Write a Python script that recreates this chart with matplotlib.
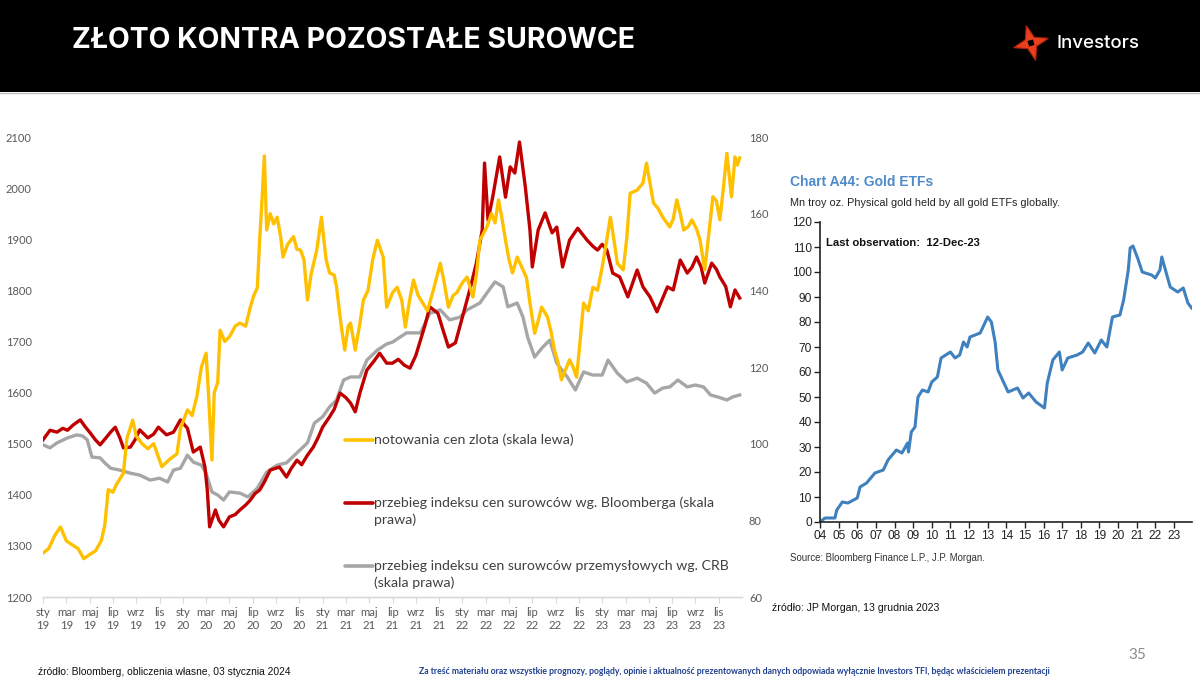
import matplotlib
matplotlib.use('Agg')
import matplotlib.pyplot as plt
from matplotlib.lines import Line2D
from matplotlib.patches import Rectangle, Polygon
import numpy as np

# ---------------- data ----------------
month_names = ['sty', 'mar', 'maj', 'lip', 'wrz', 'lis']
year_labels = ['19', '20', '21', '22', '23']

# months since Jan 2019 / gold price (left scale)
gold_m = [0, 0.5, 1.0, 1.5, 2.0, 2.5, 3.0, 3.5, 4.0, 4.5,
          5.0, 5.3, 5.6, 6.0, 6.3, 6.9, 7.2, 7.7, 8.0, 8.5,
          9.0, 9.5, 10.2, 10.9, 11.5, 11.8, 12.4, 12.8, 13.2, 13.6,
          14.0, 14.2, 14.5, 14.7, 15.0, 15.2, 15.6, 16.0, 16.5, 16.9,
          17.4, 17.8, 18.1, 18.4, 18.6, 18.8, 19.0, 19.2, 19.5, 19.8,
          20.1, 20.4, 20.6, 21.0, 21.5, 21.8, 22.1, 22.4, 22.7, 23.0,
          23.5, 23.9, 24.3, 24.6, 25.0, 25.2, 25.6, 25.9, 26.2, 26.4,
          26.8, 27.2, 27.5, 27.9, 28.3, 28.7, 29.2, 29.5, 30.0, 30.4,
          30.8, 31.1, 31.5, 31.8, 32.2, 32.6, 33.0, 33.5, 34.1, 34.4,
          34.8, 35.2, 35.5, 36.0, 36.4, 36.9, 37.2, 37.5, 38.1, 38.5,
          38.8, 39.1, 39.4, 39.7, 40.0, 40.3, 40.7, 41.2, 41.5, 41.8,
          42.2, 42.5, 42.8, 43.3, 43.6, 43.9, 44.2, 44.5, 45.2, 45.5,
          45.8, 46.1, 46.4, 46.8, 47.2, 47.6, 48.0, 48.4, 48.7, 49.0,
          49.3, 49.8, 50.1, 50.4, 51.0, 51.5, 51.8, 52.1, 52.4, 52.8,
          53.2, 53.8, 54.1, 54.4, 54.7, 55.0, 55.4, 55.7, 56.1, 56.4,
          56.8, 57.1, 57.5, 57.8, 58.1, 58.4, 58.7, 59.1, 59.4, 59.6, 59.8]
gold_v = [1286, 1295, 1320, 1337, 1310, 1302, 1295, 1275, 1283, 1290,
          1310, 1340, 1410, 1405, 1420, 1442, 1510, 1546, 1515, 1500,
          1490, 1500, 1455, 1470, 1480, 1530, 1566, 1555, 1592, 1650,
          1677, 1600, 1468, 1600, 1620, 1722, 1700, 1709, 1730, 1736,
          1730, 1768, 1790, 1805, 1900, 1977, 2063, 1918, 1950, 1930,
          1943, 1905, 1865, 1890, 1905, 1880, 1879, 1860, 1781, 1830,
          1879, 1943, 1860, 1834, 1830, 1806, 1730, 1683, 1730, 1736,
          1683, 1735, 1781, 1800, 1860, 1898, 1865, 1767, 1795, 1806,
          1780, 1728, 1785, 1820, 1790, 1775, 1760, 1800, 1853, 1820,
          1767, 1790, 1795, 1815, 1826, 1787, 1830, 1898, 1924, 1950,
          1932, 1977, 1940, 1898, 1860, 1834, 1865, 1840, 1825, 1775,
          1716, 1740, 1767, 1748, 1720, 1683, 1660, 1625, 1664, 1650,
          1630, 1700, 1775, 1760, 1806, 1800, 1845, 1900, 1943, 1900,
          1853, 1840, 1900, 1990, 1996, 2010, 2049, 2010, 1971, 1960,
          1943, 1924, 1940, 1977, 1950, 1918, 1925, 1938, 1920, 1898,
          1840, 1900, 1983, 1975, 1938, 2000, 2068, 1983, 2061, 2045, 2059]

# Bloomberg commodity index (right scale)
bcom_m = [0, 0.6, 1.2, 1.7, 2.1, 2.6, 3.2, 3.6, 4.0, 4.5,
          4.9, 5.4, 5.8, 6.2, 6.6, 6.9, 7.5, 7.9, 8.3, 9.0,
          9.5, 9.9, 10.6, 11.2, 11.8, 12.4, 12.9, 13.5, 13.9, 14.1,
          14.3, 14.8, 15.1, 15.5, 16.0, 16.5, 16.9, 17.4, 17.8, 18.2,
          18.6, 19.0, 19.5, 20.3, 20.9, 21.3, 21.8, 22.2, 22.7, 23.2,
          23.6, 24.0, 24.6, 25.0, 25.5, 26.0, 26.4, 26.8, 27.2, 27.8,
          28.4, 28.9, 29.5, 30.0, 30.5, 31.0, 31.5, 32.0, 32.4, 32.8,
          33.2, 33.9, 34.3, 34.8, 35.4, 36.0, 36.7, 37.2, 37.7, 37.9,
          38.2, 38.6, 39.2, 39.7, 40.1, 40.5, 40.9, 41.4, 41.8, 42.0,
          42.5, 43.1, 43.7, 44.1, 44.6, 45.2, 45.9, 46.7, 47.2, 47.6,
          48.0, 48.4, 48.9, 49.5, 50.2, 51.0, 51.5, 52.1, 52.7, 53.2,
          53.6, 54.1, 54.7, 55.3, 55.7, 56.1, 56.5, 56.8, 57.4, 57.8,
          58.1, 58.6, 59.0, 59.4, 59.8]
bcom_v = [101.0, 103.5, 103.0, 104.0, 103.5, 104.9, 106.2, 104.5, 103.0, 101.0,
          99.7, 101.5, 103.0, 104.3, 101.5, 98.9, 99.1, 101.0, 103.6, 101.5,
          102.5, 104.3, 102.3, 103.0, 106.2, 104.0, 97.8, 99.1, 93.9, 88.0,
          78.3, 82.7, 80.0, 78.3, 80.9, 81.5, 82.7, 84.0, 85.3, 87.0,
          87.9, 90.0, 93.1, 93.9, 91.3, 93.5, 95.7, 94.5, 97.0, 99.1,
          101.5, 104.3, 107.0, 109.0, 113.2, 112.0, 110.6, 108.3, 113.2, 119.2,
          121.5, 123.6, 121.0, 121.0, 122.0, 120.5, 119.7, 123.0, 127.0, 131.0,
          135.7, 134.0, 130.0, 125.2, 126.3, 133.0, 140.9, 147.1, 155.7, 173.2,
          158.3, 164.3, 174.8, 164.3, 172.2, 170.6, 178.7, 167.0, 155.7, 146.1,
          155.7, 160.2, 155.0, 156.5, 146.1, 153.1, 156.2, 153.1, 151.5, 150.5,
          152.0, 150.5, 144.5, 143.5, 138.3, 145.3, 140.9, 138.3, 134.4, 138.0,
          140.9, 140.1, 147.9, 144.5, 146.0, 148.7, 146.0, 141.9, 147.1, 145.5,
          143.5, 141.0, 135.7, 140.1, 138.0]

# CRB industrials (right scale)
crb_m = [0, 0.6, 1.2, 2.1, 2.9, 3.4, 3.8, 4.2, 4.9, 5.3,
         5.8, 6.6, 7.5, 8.3, 9.2, 10.0, 10.7, 11.2, 11.8, 12.4,
         12.9, 13.6, 14.0, 14.5, 15.0, 15.5, 16.0, 16.9, 17.6, 18.4,
         19.2, 20.1, 20.9, 21.8, 22.7, 23.3, 24.0, 24.6, 25.2, 25.8,
         26.4, 27.2, 27.8, 28.7, 29.5, 30.0, 31.2, 32.4, 33.2, 34.1,
         34.9, 35.8, 36.4, 37.5, 38.1, 38.8, 39.5, 39.9, 40.7, 41.2,
         41.6, 42.2, 42.9, 43.5, 44.1, 45.0, 45.7, 46.4, 47.2, 48.0,
         48.5, 49.3, 50.1, 51.0, 51.8, 52.5, 53.2, 53.8, 54.5, 55.3,
         56.0, 56.7, 57.3, 57.9, 58.7, 59.2, 59.8]
crb_v = [99.7, 98.9, 100.2, 101.5, 102.3, 102.0, 101.0, 96.5, 96.3, 95.0,
         93.6, 93.1, 92.3, 91.8, 90.5, 91.0, 90.0, 93.1, 93.6, 97.0,
         95.2, 94.4, 92.3, 87.4, 86.6, 85.3, 87.4, 87.1, 86.1, 88.4,
         92.6, 94.4, 95.0, 97.6, 100.2, 105.4, 107.0, 109.6, 111.4, 116.6,
         117.4, 117.4, 121.8, 124.4, 126.0, 126.5, 128.9, 128.9, 134.0, 134.9,
         132.3, 133.0, 134.9, 136.7, 139.3, 142.2, 140.9, 135.7, 136.7, 133.0,
         127.8, 122.6, 125.2, 127.0, 121.0, 117.4, 114.0, 118.7, 117.9, 117.9,
         121.8, 118.4, 116.1, 117.1, 115.8, 113.2, 114.5, 114.8, 116.6, 114.8,
         115.3, 114.8, 112.7, 112.2, 111.4, 112.2, 112.7]

# Gold ETF holdings (Mn troy oz)
etf_t = [2004.0, 2004.27, 2004.8, 2004.9, 2005.2, 2005.5, 2006.0, 2006.15, 2006.5, 2006.95,
         2007.4, 2007.65, 2008.1, 2008.4, 2008.7, 2008.75, 2008.9, 2009.1, 2009.26, 2009.5,
         2009.8, 2010.0, 2010.3, 2010.5, 2011.0, 2011.25, 2011.5, 2011.7, 2011.9, 2012.05,
         2012.6, 2012.85, 2013.0, 2013.2, 2013.4, 2013.55, 2013.8, 2014.1, 2014.6, 2014.9,
         2015.2, 2015.6, 2016.05, 2016.2, 2016.5, 2016.85, 2017.0, 2017.3, 2017.8, 2018.1,
         2018.4, 2018.75, 2019.1, 2019.4, 2019.7, 2020.1, 2020.3, 2020.55, 2020.65, 2020.8,
         2021.05, 2021.3, 2021.8, 2022.0, 2022.25, 2022.35, 2022.8, 2023.2, 2023.5, 2023.75,
         2023.95]
etf_v = [0, 1.6, 1.6, 4.8, 8, 7.6, 9.6, 14, 15.6, 19.6,
         20.8, 24.8, 28.8, 27.6, 31.6, 28, 36, 38, 50, 52.8,
         52, 56, 58, 65.6, 68, 65.6, 66.8, 72, 70, 74,
         75.6, 79.6, 82, 80, 72, 60.8, 56.8, 52, 53.6, 49.6,
         51.6, 48, 45.6, 55.6, 64.8, 68, 60.8, 65.6, 66.8, 68,
         71.6, 67.6, 72.8, 70, 82, 82.8, 88.8, 100.8, 109.6, 110.4,
         105.6, 100, 98.8, 97.6, 100.8, 106, 94, 92, 93.6, 87.6,
         85.6]
etf_years = list(range(2004, 2024))

legend_labels = ['notowania cen zlota (skala lewa)',
                 'przebieg indeksu cen surowców wg. Bloomberga (skala\nprawa)',
                 'przebieg indeksu cen surowców przemysłowych wg. CRB\n(skala prawa)']

# ---------------- figure ----------------
W, H = 1200, 683
fig = plt.figure(figsize=(12, 6.83), dpi=100)
fig.patch.set_facecolor('white')


def fx(x):
    return x / W


def fy(y):
    return 1 - y / H


# header band
fig.add_artist(Rectangle((0, fy(92)), 1, 92 / H, transform=fig.transFigure,
                         facecolor='black', edgecolor='none', zorder=0))
fig.add_artist(Line2D([0, 1], [fy(92.5), fy(92.5)], transform=fig.transFigure,
                      color='#bfbfbf', lw=1))
fig.text(fx(72), fy(38), 'ZŁOTO KONTRA POZOSTAŁE SUROWCE', color='white',
         fontsize=20.5, fontweight='bold', family='Inter', va='center_baseline', ha='left')

# logo: four-pointed star
cx, cy = 1031, 43
pts = []
for k in range(8):
    ang = np.pi / 4 * k + np.pi / 12
    r = 18 if k % 2 == 0 else 6.5
    pts.append((fx(cx + r * np.cos(ang)), fy(cy - r * np.sin(ang))))
fig.add_artist(Polygon(pts, closed=True, transform=fig.transFigure,
                       facecolor='#e8401c', edgecolor='#b5200e', lw=0.8))
inner = []
for k in range(4):
    ang = np.pi / 2 * k + np.pi / 12 + np.pi / 4
    inner.append((fx(cx + 4 * np.cos(ang)), fy(cy - 4 * np.sin(ang))))
fig.add_artist(Polygon(inner, closed=True, transform=fig.transFigure,
                       facecolor='black', edgecolor='none'))
fig.text(fx(1057), fy(43), 'Investors', color='white', fontsize=13.5,
         family='Inter', fontweight='medium', va='center', ha='left')

# ---------------- left chart ----------------
c_gold, c_red, c_gray = '#FFC000', '#C00000', '#A6A6A6'
tick_col = '#595959'

ax = fig.add_axes([fx(43), fy(597), fx(742) - fx(43), fy(137) - fy(597)])
ax2 = ax.twinx()

ax2.plot(crb_m, crb_v, color=c_gray, lw=2.4, solid_joinstyle='round')
ax2.plot(bcom_m, bcom_v, color=c_red, lw=2.4, solid_joinstyle='round')
ax.plot(gold_m, gold_v, color=c_gold, lw=2.4, solid_joinstyle='round')

ax.set_zorder(ax2.get_zorder() + 1)
ax.patch.set_visible(False)

ax.set_xlim(0, 60)
ax.set_ylim(1200, 2100)
ax2.set_ylim(60, 180)
ax.set_yticks(np.arange(1200, 2101, 100))
ax2.set_yticks(np.arange(60, 181, 20))

xt = np.arange(0, 60, 2)
ax.set_xticks(xt)
ax.set_xticklabels([f'{mn}\n{yy}' for yy in year_labels for mn in month_names],
                   family='Lato', fontsize=8.2, color=tick_col, linespacing=1.3)
for a in (ax, ax2):
    for s in ('top', 'left', 'right'):
        a.spines[s].set_visible(False)
    a.spines['bottom'].set_color('#d9d9d9')
    a.spines['bottom'].set_linewidth(1)
ax.tick_params(axis='x', length=4, color='#d9d9d9', pad=3, direction='out')
ax.tick_params(axis='y', length=0, pad=8, labelsize=8, labelcolor=tick_col)
ax2.tick_params(axis='y', length=0, pad=5, labelsize=8, labelcolor=tick_col)
for lab in ax.get_yticklabels() + ax2.get_yticklabels():
    lab.set_family('Lato')

# legend drawn manually
leg_font = dict(family='Lato', fontsize=10.2, color='#404040', ha='left', va='top',
                linespacing=1.45)
for col, ly, label in [(c_gold, 440, legend_labels[0]),
                       (c_red, 503, legend_labels[1]),
                       (c_gray, 566, legend_labels[2])]:
    fig.add_artist(Line2D([fx(345), fx(373)], [fy(ly), fy(ly)], transform=fig.transFigure,
                          color=col, lw=2.6, solid_capstyle='round'))
    fig.text(fx(373.5), fy(ly - 6.5), label, **leg_font)

# ---------------- right chart (Gold ETFs) ----------------
narrow = 'Liberation Sans'
axE = fig.add_axes([fx(820), fy(522), fx(1192) - fx(820), fy(222) - fy(522)])
axE.plot(etf_t, etf_v, color='#3f80bf', lw=2.2, solid_joinstyle='round')
axE.set_xlim(2004, 2023.97)
axE.set_ylim(0, 120)
axE.set_yticks(np.arange(0, 121, 10))
axE.set_xticks(etf_years)
axE.set_xticklabels([f'{y % 100:02d}' for y in etf_years])
for s in ('top', 'right'):
    axE.spines[s].set_visible(False)
for s in ('left', 'bottom'):
    axE.spines[s].set_color('#222222')
    axE.spines[s].set_linewidth(1.2)
axE.tick_params(axis='both', length=4, width=1, color='#222222', labelsize=8.6,
                labelcolor='#222222', pad=2)
for lab in axE.get_xticklabels() + axE.get_yticklabels():
    lab.set_family(narrow)

fig.text(fx(790), fy(182), 'Chart A44: Gold ETFs', family=narrow, fontsize=10,
         fontweight='bold', color='#4f8bc9', va='center', ha='left')
fig.text(fx(790), fy(203), 'Mn troy oz. Physical gold held by all gold ETFs globally.',
         family=narrow, fontsize=7.8, color='#222222', va='center', ha='left')
fig.text(fx(826), fy(243), 'Last observation:  12-Dec-23', family=narrow, fontsize=8.1,
         fontweight='bold', color='#111111', va='center', ha='left')
fig.text(fx(790), fy(558), 'Source: Bloomberg Finance L.P., J.P. Morgan.', family=narrow,
         fontsize=6.9, color='#333333', va='center', ha='left')
fig.text(fx(772), fy(608), 'źródło: JP Morgan, 13 grudnia 2023', family='Liberation Sans',
         fontsize=7.6, color='#111111', va='center', ha='left')

# ---------------- footer ----------------
fig.text(fx(38), fy(672), 'źródło: Bloomberg, obliczenia własne, 03 stycznia 2024',
         family='Liberation Sans', fontsize=7.4, color='#111111', va='center', ha='left')
fig.text(fx(734), fy(671),
         'Za treść materiału oraz wszystkie prognozy, poglądy, opinie i aktualność prezentowanych '
         'danych odpowiada wyłącznie Investors TFI, będąc właścicielem prezentacji',
         family='Lato', fontsize=6.2, fontweight='bold', color='#1f3f8f', va='center', ha='center')
fig.text(fx(1137), fy(655), '35', family='Lato', fontsize=11, color='#8c8c8c',
         va='center', ha='center')

fig.savefig('out.png', dpi=100, facecolor='white')
